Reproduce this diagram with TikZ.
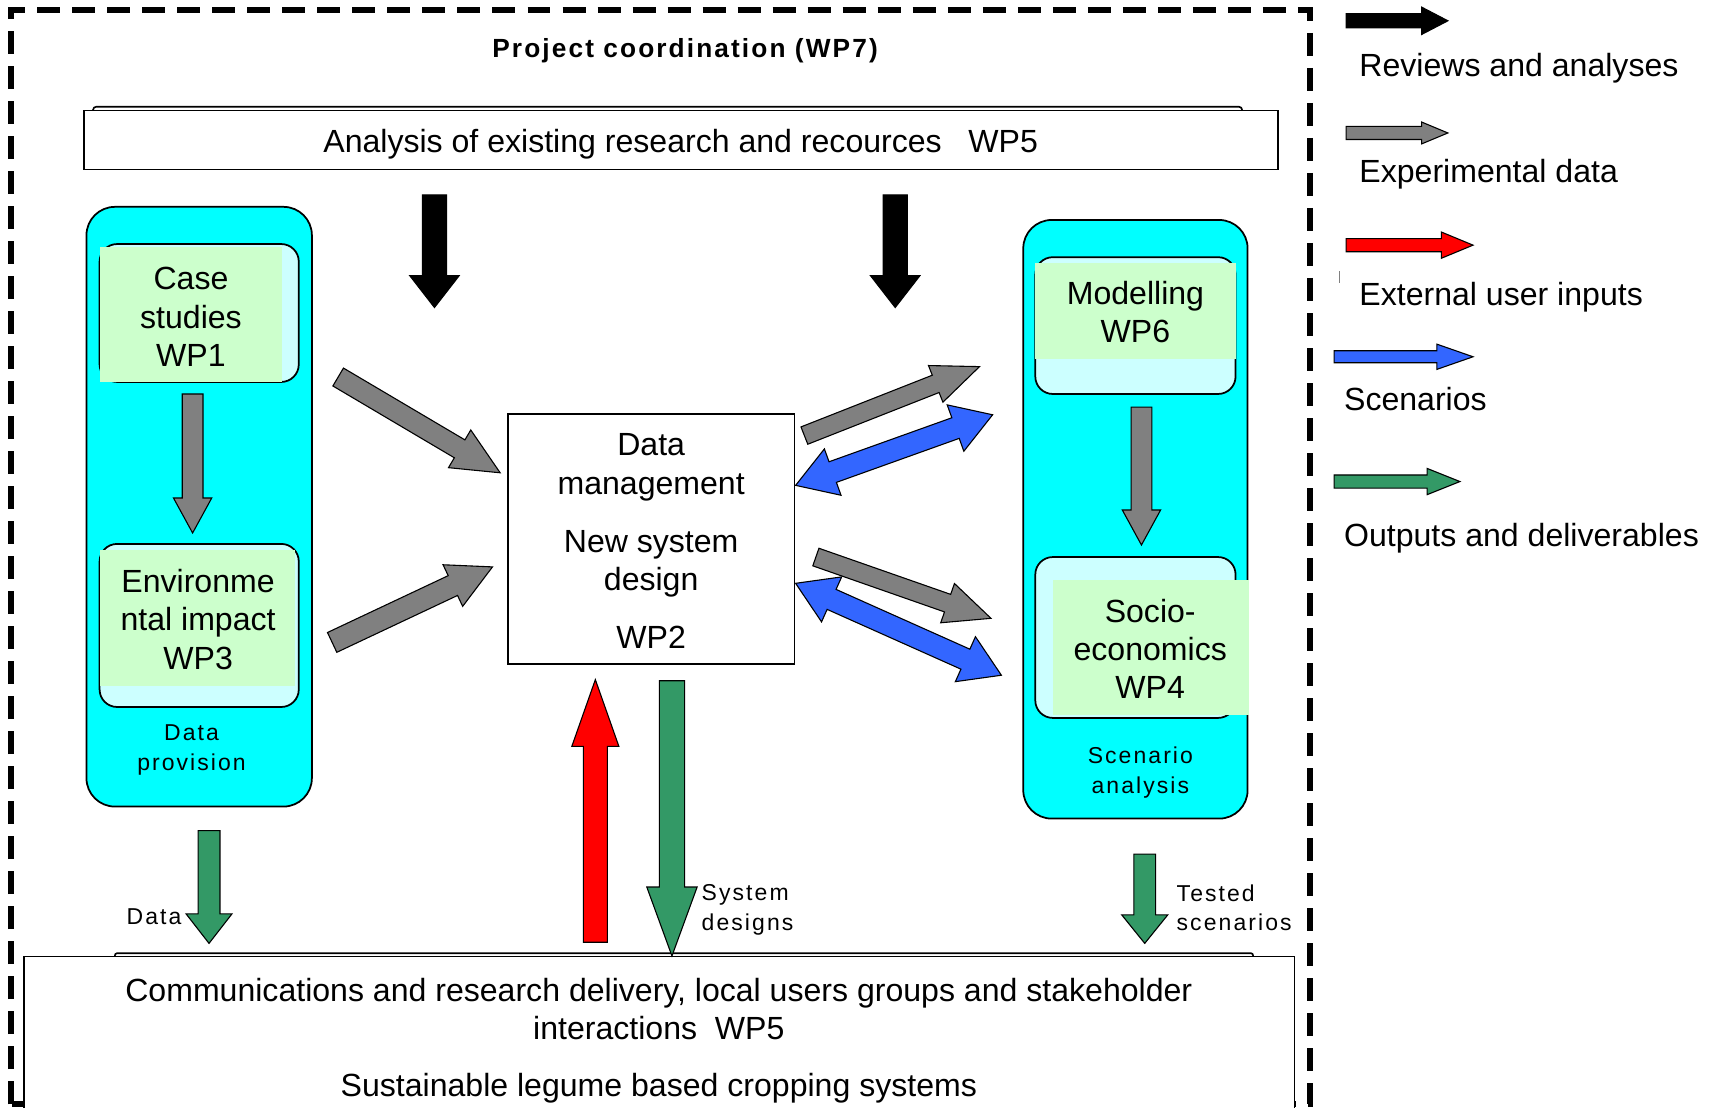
\documentclass[tikz,border=0pt]{standalone}
\usepackage{fontspec}
\setmainfont{Liberation Sans}
\newfontfamily\spacedfont[LetterSpace=9]{Liberation Sans}
\newfontfamily\titlefont[LetterSpace=8]{Liberation Sans}
\usetikzlibrary{calc}
\definecolor{cyanbox}{HTML}{00FFFF}
\definecolor{lightcyan}{HTML}{CCFFFF}
\definecolor{lightgreen}{HTML}{CCFFCC}
\definecolor{arrgray}{HTML}{808080}
\definecolor{arrblue}{HTML}{3366FF}
\definecolor{arrgreen}{HTML}{339966}
\definecolor{arrred}{HTML}{FF0000}

% #1 style, #2 tail, #3 tip, #4 shaft half width, #5 head half width, #6 head length
\newcommand\blockarrow[6]{%
  \path ($(#3)!#6!(#2)$) coordinate (ba-h);
  \draw[#1] ($(#2)!#4!90:(#3)$) -- ($(ba-h)!#4!-90:(#2)$) -- ($(ba-h)!#5!-90:(#2)$) -- (#3)
     -- ($(ba-h)!#5!90:(#2)$) -- ($(ba-h)!#4!90:(#2)$) -- ($(#2)!#4!-90:(#3)$) -- cycle;}
\newcommand\dblarrow[6]{%
  \path ($(#2)!#6!(#3)$) coordinate (da-a) ($(#3)!#6!(#2)$) coordinate (da-b);
  \draw[#1] (#2) -- ($(da-a)!#5!90:(#3)$) -- ($(da-a)!#4!90:(#3)$) -- ($(da-b)!#4!-90:(#2)$)
     -- ($(da-b)!#5!-90:(#2)$) -- (#3) -- ($(da-b)!#5!90:(#2)$) -- ($(da-b)!#4!90:(#2)$)
     -- ($(da-a)!#4!-90:(#3)$) -- ($(da-a)!#5!-90:(#3)$) -- cycle;}

\tikzset{
  outerframe/.style={line width=5.5pt, dash pattern=on 21pt off 11pt},
  container/.style={draw=black, line width=1.6pt, fill=cyanbox, rounded corners=26pt, inner sep=0pt, outer sep=0pt},
  wpbox/.style={draw=black, line width=1.6pt, fill=lightcyan, rounded corners=16pt, inner sep=0pt, outer sep=0pt},
  whitebox/.style={draw=black, line width=1.5pt, fill=white, inner sep=0pt, outer sep=0pt},
  maintext/.style={font=\fontsize{29.3}{35}\selectfont, align=center, inner sep=0pt},
  smalltext/.style={font=\spacedfont\fontsize{21}{27}\selectfont, inner sep=0pt},
  legtext/.style={font=\fontsize{29.3}{35}\selectfont, anchor=base west, inner sep=0pt},
  blackarrow/.style={draw=black, line width=1pt, fill=black},
  grayarrow/.style={draw=black, line width=1pt, fill=arrgray},
  bluearrow/.style={draw=black, line width=1pt, fill=arrblue},
  greenarrow/.style={draw=black, line width=1pt, fill=arrgreen},
  redarrow/.style={draw=black, line width=1pt, fill=arrred},
}

\begin{document}
\begin{tikzpicture}[x=1pt,y=-1pt]
\useasboundingbox (0,0) rectangle (1568,1012);
\fill[white] (0,0) rectangle (1568,1012);

% outer dashed frame
\draw[outerframe] (10,1009) -- (10,9) -- (1197,9) -- (1197,1009) -- cycle;

% title
\node[font=\titlefont\bfseries\fontsize{24}{29}\selectfont, inner sep=0pt] (title) at (626,46) {Project coordination (WP7)};

% analysis box
\draw[line width=1.5pt, rounded corners=3pt, fill=white] (85,97.5) rectangle (1135,112);
\node[whitebox, minimum width=1091pt, minimum height=54pt] (analysis) at (622.5,128) {};
\node[maintext] (analysistext) at (622,132) {Analysis of existing research and recources \ \ WP5};

% left container
\node[container, minimum width=206pt, minimum height=548pt] (dataprov) at (182,463) {};
\node[wpbox, minimum width=182pt, minimum height=126pt] (wp1box) at (182,286) {};
\fill[lightgreen] (91,226) rectangle (258,349);
\node[maintext] (wp1) at (174.5,289.5) {Case\\studies\\WP1};
\node[wpbox, minimum width=182pt, minimum height=149pt] (wp3box) at (182,571.5) {};
\fill[lightgreen] (91,503) rectangle (270,627);
\node[maintext] (wp3) at (181,566) {Environme\\ntal impact\\WP3};
\node[smalltext, align=center] (dataprovtext) at (175,685.5) {Data\\provision};

% right container
\node[container, minimum width=205pt, minimum height=547pt] (scenan) at (1037.5,474.5) {};
\node[wpbox, minimum width=183pt, minimum height=125pt] (wp6box) at (1037.5,297.5) {};
\fill[lightgreen] (946,240) rectangle (1129,328);
\node[maintext] (wp6) at (1037.5,285) {Modelling\\WP6};
\node[wpbox, minimum width=183pt, minimum height=147pt] (wp4box) at (1037.5,582.5) {};
\fill[lightgreen] (962,530) rectangle (1141,653);
\node[maintext] (wp4) at (1051,593) {Socio-\\economics\\WP4};
\node[smalltext, align=center] (scenantext) at (1042,706) {Scenario\\analysis};

% centre box
\node[whitebox, minimum width=262pt, minimum height=229pt] (wp2box) at (595,492.5) {};
\node[maintext] (wp2) at (595,494.5) {Data\\management\\[18pt]New system\\design\\[18pt]WP2};

% bottom box
\draw[line width=1.5pt, rounded corners=2pt, fill=white] (105,871) rectangle (1145,900);
\node[whitebox, minimum width=1161pt, minimum height=156pt] (wp5b) at (602.5,952) {};
\node[maintext] (wp5btext) at (602,951) {Communications and research delivery, local users groups and stakeholder\\interactions \ WP5\\[17pt]Sustainable legume based cropping systems};

% arrow end points
\coordinate (bkL-t) at (397,178); \coordinate (bkL-h) at (397,281);
\coordinate (bkR-t) at (818,178); \coordinate (bkR-h) at (818,281);
\coordinate (g13-t) at (176,360); \coordinate (g13-h) at (176,487);
\coordinate (g64-t) at (1043,372); \coordinate (g64-h) at (1043,498);
\coordinate (gul-t) at (309,344.5); \coordinate (gul-h) at (457,432);
\coordinate (gll-t) at (303.5,587); \coordinate (gll-h) at (450,518);
\coordinate (gur-t) at (735,398); \coordinate (gur-h) at (895,335);
\coordinate (glr-t) at (745.5,509); \coordinate (glr-h) at (905.5,565);
\coordinate (bu-a) at (727,443.5); \coordinate (bu-b) at (907,379);
\coordinate (bl-a) at (727,533); \coordinate (bl-b) at (915,617);
\coordinate (red-t) at (544,861); \coordinate (red-h) at (544,621);
\coordinate (gc-t) at (614,622); \coordinate (gc-h) at (614,873.5);
\coordinate (gd-t) at (191,759); \coordinate (gd-h) at (191,862);
\coordinate (gts-t) at (1046,780.5); \coordinate (gts-h) at (1046,862);

\blockarrow{blackarrow}{bkL-t}{bkL-h}{11pt}{22.5pt}{29pt}
\blockarrow{blackarrow}{bkR-t}{bkR-h}{11pt}{22.5pt}{29pt}
\blockarrow{grayarrow}{g13-t}{g13-h}{9.5pt}{17.5pt}{32pt}
\blockarrow{grayarrow}{g64-t}{g64-h}{9.5pt}{17.5pt}{32pt}
\blockarrow{grayarrow}{gul-t}{gul-h}{9.5pt}{20pt}{43pt}
\blockarrow{grayarrow}{gll-t}{gll-h}{10pt}{21pt}{40pt}
\blockarrow{grayarrow}{gur-t}{gur-h}{8.5pt}{18pt}{43pt}
\blockarrow{grayarrow}{glr-t}{glr-h}{8.5pt}{19pt}{42pt}
\dblarrow{bluearrow}{bu-a}{bu-b}{10pt}{22.5pt}{36pt}
\dblarrow{bluearrow}{bl-a}{bl-b}{10pt}{22.5pt}{36pt}
\blockarrow{redarrow}{red-t}{red-h}{11pt}{21.5pt}{61pt}
\blockarrow{greenarrow}{gc-t}{gc-h}{11.5pt}{23pt}{63pt}
\blockarrow{greenarrow}{gd-t}{gd-h}{10pt}{21pt}{27pt}
\blockarrow{greenarrow}{gts-t}{gts-h}{10pt}{21pt}{26pt}

% arrow labels
\node[smalltext, align=left, anchor=west] (sysdes) at (641,831.5) {System\\designs};
\node[smalltext, align=left, anchor=west] (tested) at (1075,829.5) {Tested\\scenarios};
\node[smalltext, anchor=east] (datalabel) at (166,837.5) {Data};

% legend
\coordinate (lg1-t) at (1230,19); \coordinate (lg1-h) at (1323,19);
\coordinate (lg2-t) at (1230,121.5); \coordinate (lg2-h) at (1323,121.5);
\coordinate (lg3-t) at (1230,224); \coordinate (lg3-h) at (1346,224);
\coordinate (lg4-t) at (1219,326); \coordinate (lg4-h) at (1346,326);
\coordinate (lg5-t) at (1219,440); \coordinate (lg5-h) at (1334,440);
\blockarrow{blackarrow}{lg1-t}{lg1-h}{6.5pt}{12.5pt}{24pt}
\blockarrow{grayarrow}{lg2-t}{lg2-h}{6pt}{10pt}{24pt}
\blockarrow{redarrow}{lg3-t}{lg3-h}{6pt}{12pt}{29pt}
\blockarrow{bluearrow}{lg4-t}{lg4-h}{5.5pt}{11.5pt}{33pt}
\blockarrow{greenarrow}{lg5-t}{lg5-h}{6pt}{12pt}{30pt}
\node[legtext] (leg1) at (1242,69.5) {Reviews and analyses};
\node[legtext] (leg2) at (1242,167) {Experimental data};
\node[legtext] (leg3) at (1242,279) {External user inputs};
\node[legtext] (leg4) at (1228,375) {Scenarios};
\node[legtext] (leg5) at (1228,499.5) {Outputs and deliverables};
\draw[gray, line width=0.8pt] (1224,248) -- (1224,259);
\end{tikzpicture}
\end{document}
